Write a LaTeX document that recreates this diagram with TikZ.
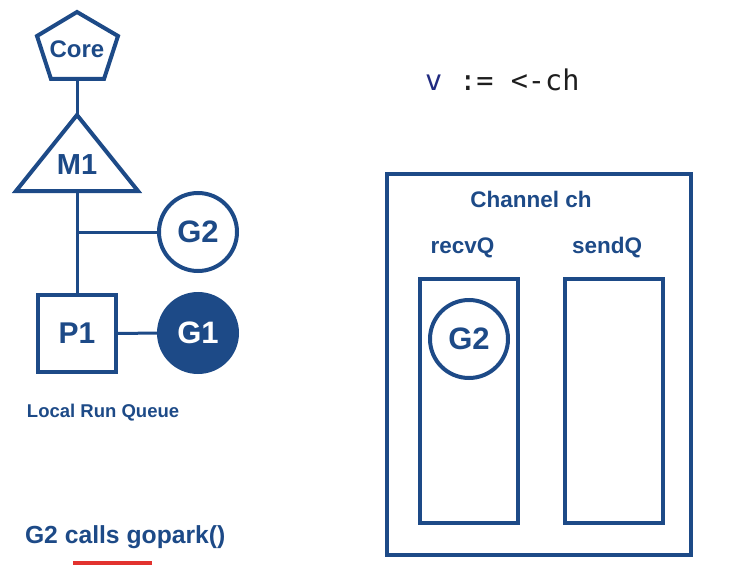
\documentclass[tikz,border=0pt]{standalone}
\usepackage{fontspec}
\setmainfont{Liberation Sans}
\newfontfamily\codefont{DejaVu Sans Mono}
\usetikzlibrary{shapes.geometric}
\definecolor{gblue}{RGB}{29,74,135}
\definecolor{navy}{RGB}{32,42,128}
\definecolor{codegray}{RGB}{30,30,30}
\definecolor{ured}{RGB}{226,50,46}
\newcommand{\fsz}[1]{\fontsize{#1}{#1}\selectfont}
\tikzset{
  every node/.style={font=\bfseries, text=gblue, inner sep=0pt, outer sep=0pt},
  shp/.style={draw=gblue, line width=4pt},
  wire/.style={draw=gblue, line width=3pt},
  gor/.style={shp, circle, minimum size=78pt, font=\bfseries\fsz{31}},
  gorfill/.style={gor, fill=gblue, text=white},
  qbox/.style={shp, rectangle, minimum width=98pt, minimum height=244pt},
  lbl/.style={font=\bfseries\fsz{22.5}}
}
\begin{document}
\begin{tikzpicture}[x=1pt, y=-1pt]
\useasboundingbox (0,0) rectangle (749,583);
% Core pentagon
\draw[shp, line join=miter] (77,12) -- (118,36) -- (104,79) -- (51,79) -- (37,36) -- cycle;
\node[font=\bfseries\fsz{24}] (core) at (77,49) {Core};
\coordinate (corebot) at (77,79);
% M1 triangle
\coordinate (mtop) at (77,115);
\coordinate (mbot) at (77,191);
\draw[shp, line join=miter] (mtop) -- (138,191) -- (16,191) -- cycle;
\node[font=\bfseries\fsz{29}] (m1) at (77,165) {M1};
% P1
\node[shp, rectangle, minimum width=78pt, minimum height=77pt, font=\bfseries\fsz{30}] (p1) at (77,333.5) {P1};
% goroutines
\node[gor] (g2) at (198,232) {G2};
\node[gorfill] (g1) at (198,333) {G1};
\coordinate (branch) at (77,232);
% wires
\draw[wire] (corebot) -- (mtop);
\draw[wire] (mbot) -- (p1.north);
\draw[wire] (branch) -- (g2.west);
\draw[wire] (p1.east) -- (g1.west);
% labels
\node[font=\bfseries\fsz{18.5}, anchor=west] (lrq) at (27,413) {Local Run Queue};
\node[font=\bfseries\fsz{24.7}, anchor=west] (calls) at (25,537) {G2 calls gopark()};
\coordinate (ul1) at (73,563);
\coordinate (ul2) at (152,563);
\draw[ured, line width=4pt] (ul1) -- (ul2);
% code line
\node[anchor=west, font=\codefont\fsz{28.5}, text=codegray] (code) at (425,80) {\textcolor{navy}{v} := <-ch};
% channel
\node[shp, rectangle, minimum width=304pt, minimum height=381pt] (chan) at (539,364.5) {};
\node[lbl] (chlbl) at (531,199) {Channel ch};
\node[lbl] (recvlbl) at (462.5,248) {recvQ};
\node[lbl] (sendlbl) at (607,248) {sendQ};
\node[qbox] (recvq) at (469,401) {};
\node[qbox] (sendq) at (614,401) {};
\node[gor] (g2q) at (469,339) {G2};
\end{tikzpicture}
\end{document}
